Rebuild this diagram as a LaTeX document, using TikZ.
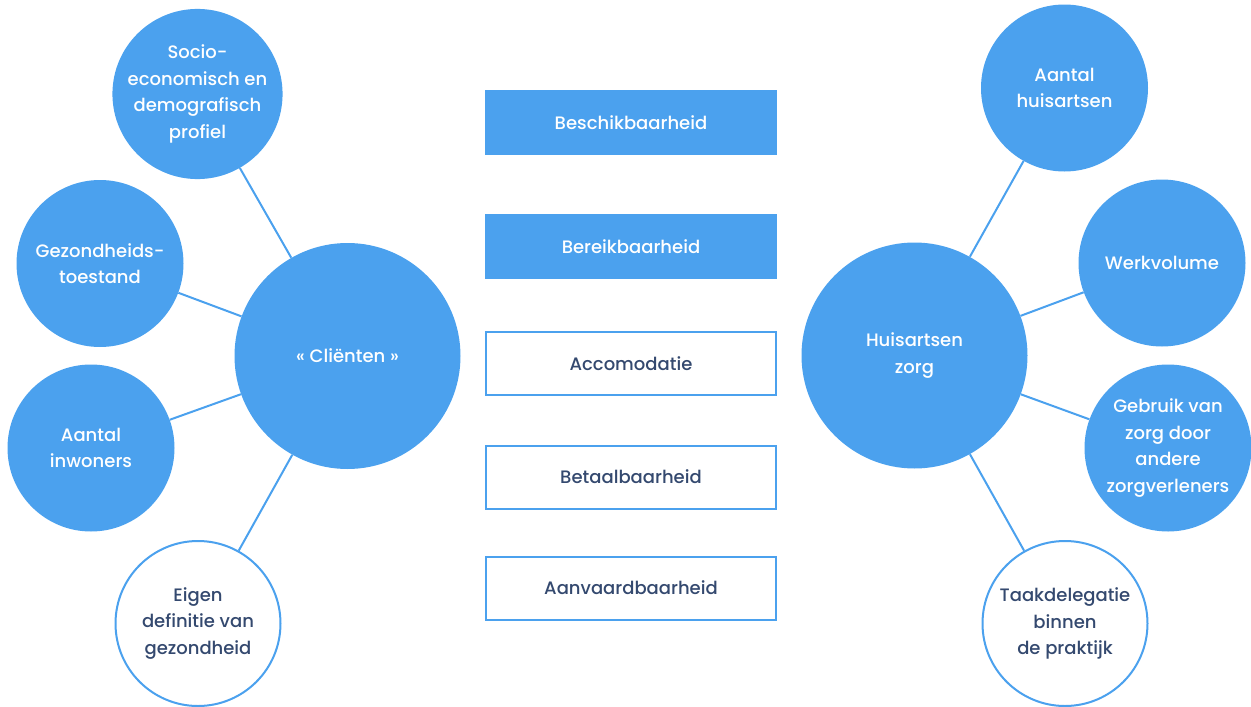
\documentclass[tikz,border=0pt]{standalone}
\usepackage{fontspec}
\setmainfont{Poppins}[UprightFont=* Medium]
\definecolor{skyblue}{HTML}{4BA1EE}
\definecolor{navytext}{HTML}{34496F}
\begin{document}
\begin{tikzpicture}[x=1pt,y=-1pt,
  txt/.style={font=\fontsize{18}{26.5}\selectfont, align=center},
  bigdisc/.style={txt, circle, fill=skyblue, text=white, minimum size=226pt, inner sep=0pt},
  disc/.style={txt, circle, fill=skyblue, text=white, minimum size=167pt, inner sep=0pt},
  ring/.style={txt, circle, draw=skyblue, line width=2pt, fill=white, text=navytext, minimum size=165pt, inner sep=0pt},
  fullbox/.style={txt, rectangle, fill=skyblue, text=white, minimum width=292pt, minimum height=65pt, inner sep=0pt},
  openbox/.style={txt, rectangle, draw=skyblue, line width=2pt, fill=white, text=navytext, minimum width=290pt, minimum height=63pt, inner sep=0pt},
  link/.style={draw=skyblue, line width=2pt}]
\useasboundingbox (0,0) rectangle (1251,707);

% central boxes
\node[fullbox] (beschik) at (631,122.5) {Beschikbaarheid};
\node[fullbox] (bereik) at (631,246.5) {Bereikbaarheid};
\node[openbox] (accom) at (631,363.5) {Accomodatie};
\node[openbox] (betaal) at (631,477) {Betaalbaarheid};
\node[openbox] (aanv) at (631,588) {Aanvaardbaarheid};

% client side
\node[bigdisc] (client) at (347.5,356) {« Cliënten »};
\node[disc] (socio) at (197.5,94) {Socio-\\economisch en\\demografisch\\profiel};
\node[disc] (gezond) at (100,263.5) {Gezondheids-\\toestand};
\node[disc] (inwon) at (91,448) {Aantal\\inwoners};
\node[ring] (eigen) at (198,623.5) {Eigen\\definitie van\\gezondheid};

% general practice side
\node[bigdisc] (huisarts) at (914.5,355.5) {Huisartsen\\zorg};
\node[disc] (aantal) at (1064.5,88) {Aantal\\huisartsen};
\node[disc] (werk) at (1162,263) {Werkvolume};
\node[disc] (gebruik) at (1168,448) {Gebruik van\\zorg door\\andere\\zorgverleners};
\node[ring] (taak) at (1065,623.5) {Taakdelegatie\\binnen\\de praktijk};

% connectors
\foreach \s in {socio,gezond,inwon,eigen}
  \draw[link] (client) -- (\s);
\foreach \s in {aantal,werk,gebruik,taak}
  \draw[link] (huisarts) -- (\s);
\end{tikzpicture}
\end{document}
